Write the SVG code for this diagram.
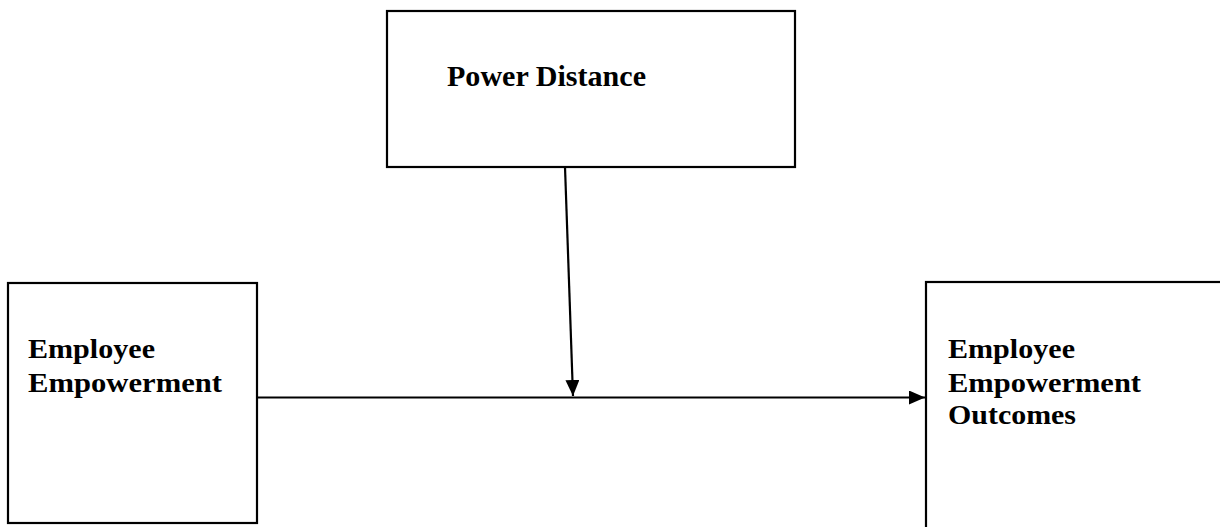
<svg xmlns="http://www.w3.org/2000/svg" width="1220" height="527" viewBox="0 0 1220 527">
  <style>
    .box { fill: #ffffff; stroke: #000000; stroke-width: 2.2; }
    .label { font-family: "Liberation Serif", "Times New Roman", serif; font-weight: bold; font-size: 28px; fill: #000000; }
    .title { font-size: 30px; }
    .conn { stroke: #000000; stroke-width: 2.2; fill: none; }
  </style>
  <defs>
    <marker id="arrow" viewBox="0 0 16 14" refX="16" refY="7" markerWidth="16" markerHeight="14" markerUnits="userSpaceOnUse" orient="auto">
      <path d="M0,0 L16,7 L0,14 Z" fill="#000000"/>
    </marker>
  </defs>
  <rect width="1220" height="527" fill="#ffffff"/>

  <g id="power-distance">
    <rect class="box" x="387" y="11" width="408" height="156"/>
    <text class="label title" x="447" y="86" textLength="199" lengthAdjust="spacingAndGlyphs">Power Distance</text>
  </g>

  <g id="employee-empowerment">
    <rect class="box" x="8" y="283" width="249" height="240"/>
    <text class="label" x="28" y="358" textLength="127" lengthAdjust="spacingAndGlyphs">Employee</text>
    <text class="label" x="28" y="392" textLength="194" lengthAdjust="spacingAndGlyphs">Empowerment</text>
  </g>

  <g id="empowerment-outcomes">
    <rect class="box" x="926" y="282" width="310" height="260"/>
    <text class="label" x="948" y="358" textLength="127" lengthAdjust="spacingAndGlyphs">Employee</text>
    <text class="label" x="948" y="392" textLength="193" lengthAdjust="spacingAndGlyphs">Empowerment</text>
    <text class="label" x="948" y="424" textLength="128" lengthAdjust="spacingAndGlyphs">Outcomes</text>
  </g>

  <g id="connectors">
    <line class="conn" x1="257" y1="397.5" x2="925" y2="397.5" marker-end="url(#arrow)"/>
    <line class="conn" x1="565" y1="167" x2="573" y2="396" marker-end="url(#arrow)"/>
  </g>
</svg>
